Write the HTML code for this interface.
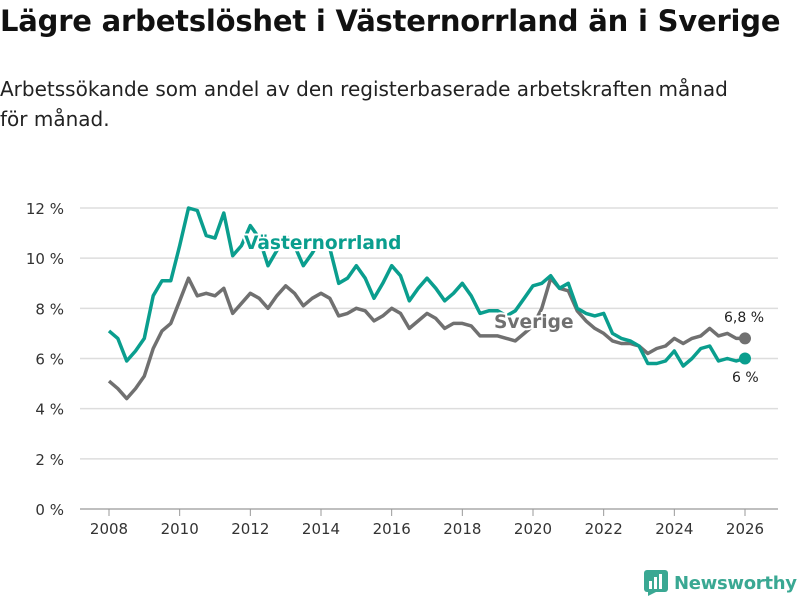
<!DOCTYPE html>
<html><head><meta charset="utf-8"><style>
body{margin:0;width:800px;height:600px;background:#fff;font-family:"DejaVu Sans","Liberation Sans",sans-serif;color:#111;overflow:hidden;position:relative}
h1{position:absolute;left:0;top:4px;margin:0;font-size:29px;font-weight:bold;letter-spacing:-0.2px;white-space:nowrap}
p{position:absolute;left:0;top:74px;margin:0;font-size:20px;line-height:30px;width:785px;color:#222}
svg{position:absolute;left:0;top:0}
</style></head><body>
<h1>Lägre arbetslöshet i Västernorrland än i Sverige</h1>
<p>Arbetssökande som andel av den registerbaserade arbetskraften månad<br>för månad.</p>
<svg id="c" width="800" height="600"></svg>
<script>
const years=[2008,2010,2012,2014,2016,2018,2020,2022,2024,2026];
const yTicks=[0,2,4,6,8,10,12];
const yLabels=["0 %","2 %","4 %","6 %","8 %","10 %","12 %"];
const startYear=2008, stepYear=0.25;
const vasternorrland=[7.1,6.8,5.9,6.3,6.8,8.5,9.1,9.1,10.5,12.0,11.9,10.9,10.8,11.8,10.1,10.5,11.3,10.8,9.7,10.3,10.9,10.5,9.7,10.2,10.8,10.4,9.0,9.2,9.7,9.2,8.4,9.0,9.7,9.3,8.3,8.8,9.2,8.8,8.3,8.6,9.0,8.5,7.8,7.9,7.9,7.7,7.9,8.4,8.9,9.0,9.3,8.8,9.0,8.0,7.8,7.7,7.8,7.0,6.8,6.7,6.5,5.8,5.8,5.9,6.3,5.7,6.0,6.4,6.5,5.9,6.0,5.9,6.0];
const sverige=[5.1,4.8,4.4,4.8,5.3,6.4,7.1,7.4,8.3,9.2,8.5,8.6,8.5,8.8,7.8,8.2,8.6,8.4,8.0,8.5,8.9,8.6,8.1,8.4,8.6,8.4,7.7,7.8,8.0,7.9,7.5,7.7,8.0,7.8,7.2,7.5,7.8,7.6,7.2,7.4,7.4,7.3,6.9,6.9,6.9,6.8,6.7,7.0,7.3,8.0,9.2,8.8,8.7,7.9,7.5,7.2,7.0,6.7,6.6,6.6,6.5,6.2,6.4,6.5,6.8,6.6,6.8,6.9,7.2,6.9,7.0,6.8,6.8];
const X=y=>109+(y-2008)*(636/18), Y=v=>509-v*(301/12);
const s=document.getElementById('c'),NS='http://www.w3.org/2000/svg';
function mk(t,a,txt){const e=document.createElementNS(NS,t);for(const k in a)e.setAttribute(k,a[k]);if(txt!=null)e.textContent=txt;s.appendChild(e);return e;}
yTicks.forEach((v,i)=>{const g=mk('line',{x1:80,x2:778,y1:Y(v),y2:Y(v),stroke:v?'#ddd':'#999','stroke-width':v?1.5:1.2});


const t=mk('text',{x:64,y:Y(v)+6,'text-anchor':'end','font-size':15,fill:'#333'},yLabels[i]);

});
years.forEach(yr=>{const l=mk('line',{x1:X(yr),x2:X(yr),y1:509,y2:516,stroke:'#999'});


const t=mk('text',{x:X(yr),y:534,'text-anchor':'middle','font-size':15,fill:'#333'},yr);

});
function line(d,c,n){const p=d.map((v,i)=>(i?'L':'M')+X(startYear+i*stepYear).toFixed(1)+','+Y(v).toFixed(1)).join('');
const e=mk('path',{d:p,fill:'none',stroke:c,'stroke-width':3.5,'stroke-linejoin':'round'});


const last=d.length-1;const dt=mk('circle',{cx:X(startYear+last*stepYear),cy:Y(d[last]),r:6,fill:c});

}
line(sverige,'#707070','sverige');
line(vasternorrland,'#0a9e8e','vasternorrland');
function lab(x,y,t,c,sz,w,n){const e=mk('text',{x:x,y:y,'font-size':sz,'font-weight':w,fill:c,stroke:'#fff','stroke-width':4,'paint-order':'stroke'},t);

}
lab(244,249,'Västernorrland','#0a9e8e',18.6,'bold','vasternorrland-label');
lab(494,328,'Sverige','#707070',18.6,'bold','sverige-label');
lab(724,322,'6,8 %','#222',14,'normal','sverige-end-label');
lab(732,382,'6 %','#222',14,'normal','vasternorrland-end-label');
</script>
<div style="position:absolute;left:644px;top:570px;display:flex;align-items:center;gap:6px">
<svg width="24" height="26" style="position:static"><rect x="0" y="0" width="24" height="22" rx="3" fill="#3aa893"/><polygon points="4,22 12,22 4,26" fill="#3aa893"/><rect x="5" y="11" width="3" height="8" fill="#fff"/><rect x="10" y="7" width="3" height="12" fill="#fff"/><rect x="15" y="4" width="3" height="15" fill="#fff"/></svg>
<span style="font-size:18px;font-weight:bold;color:#3aa893;letter-spacing:-0.3px">Newsworthy</span></div>
</body></html>
